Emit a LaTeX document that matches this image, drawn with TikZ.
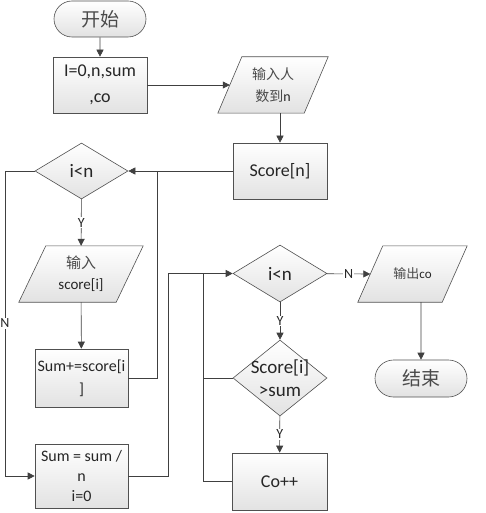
\documentclass[tikz,border=0pt]{standalone}
\usepackage{fontspec}
\setmainfont{Carlito}
\newfontfamily\cjk{Noto Sans CJK SC}
\usetikzlibrary{shapes.geometric,shapes.misc,arrows.meta,calc,backgrounds}
\definecolor{linec}{HTML}{404040}
\definecolor{borderc}{HTML}{505050}
\definecolor{textc}{HTML}{262626}
\definecolor{cjkc}{HTML}{4A4A4A}
\definecolor{fillc}{HTML}{E2E2E2}
\newcommand\myfs[2]{\fontsize{#1}{#2}\selectfont}
\newcommand\zh[1]{{\cjk\color{cjkc}#1}}
\newcommand\drawpara[2]{%
  \begin{pgfonlayer}{background}
    \path[base] (#1.south west) -- ($(#1.north west)+(#2,0)$) -- (#1.north east) -- ($(#1.south east)-(#2,0)$) -- cycle;
  \end{pgfonlayer}}
\begin{document}
\begin{tikzpicture}[x=1pt,y=-1pt,
  base/.style={draw=borderc, line width=0.6pt, top color=white, bottom color=fillc, text=textc, align=center, inner sep=1pt},
  proc/.style={base, rectangle, minimum width=94, minimum height=56, font=\myfs{18}{26}},
  term/.style={base, rounded rectangle, minimum width=94, minimum height=36, font=\myfs{19}{22}},
  dec/.style={base, diamond, minimum width=94, minimum height=57, font=\myfs{19}{23}},
  io/.style={rectangle, minimum height=56, text=textc, align=center, inner sep=1pt, font=\myfs{14}{22}},
  conn/.style={draw=linec, line width=0.6pt},
  arr/.style={conn, -{Triangle[length=7pt,width=7pt]}},
  lab/.style={fill=white, inner sep=1pt, text=textc, font=\myfs{14}{14}}
]
\useasboundingbox (0,0) rectangle (485,513);

\node[term] (start) at (100,19) {\zh{开始}};
\node[proc] (init) at (100,85) {I=0,n,sum\\,co};
\node[io, minimum width=110] (in1) at (273,85) {\zh{输入人}\\\zh{数到}n};
\drawpara{in1}{24}
\node[proc] (score) at (280,171) {Score[n]};
\node[dec, minimum width=93, minimum height=56] (d1) at (81.5,171) {i<n};
\node[io, minimum width=124, font=\myfs{15}{21}] (in2) at (81,274) {\zh{输入}\\score[i]};
\drawpara{in2}{27}
\node[proc, minimum width=93, minimum height=58, font=\myfs{16}{23}] (sum1) at (81.5,378) {Sum+=score[i\\]};
\node[proc, minimum width=93, minimum height=64, font=\myfs{16}{20}] (avg) at (81.5,476) {Sum = sum /\\n\\i=0};
\node[dec] (d2) at (280,273.5) {i<n};
\node[dec, minimum height=76] (d3) at (280,378) {};
\node[text=textc, align=center, font=\myfs{19}{23}, inner sep=0pt] (d3t) at (d3.center) {Score[i]\\>sum};
\node[proc, minimum width=95, minimum height=57] (co) at (279.5,481.5) {Co++};
\node[io, minimum width=109, font=\myfs{13}{16}] (out) at (412.5,274) {\zh{输出}co};
\drawpara{out}{25}
\node[term, minimum height=37] (end) at (421,378.5) {\zh{结束}};

\coordinate (in1w) at ($(in1.west)+(12,0)$);
\coordinate (outw) at ($(out.west)+(12.5,0)$);
\coordinate (j1) at (157,171);
\coordinate (nl) at (5,171);
\coordinate (j2) at (168,273.5);
\coordinate (j3) at (203,273.5);

\draw[arr] (start) -- (init);
\draw[arr] (init) -- (in1w);
\draw[arr] (in1.south -| score.north) -- (score.north);
\draw[arr] (score) -- (d1);
\draw[conn] (sum1.east) -| (j1);
\draw[arr] (d1) -- node[lab]{Y} (in2);
\draw[arr] (in2) -- (sum1);
\draw[arr] (d1.west) -- (nl) |- node[lab, pos=0.25]{N} (avg.west);
\draw[arr] (avg.east) -| (j2) -- (d2.west);
\draw[arr] (d2) -- node[lab]{Y} (d3);
\draw[arr] (d3) -- node[lab]{Y} (co);
\draw[conn] (co.west) -| (j3);
\draw[conn] (d3.west) -- (d3.west -| j3);
\draw[arr] (d2) -- node[lab]{N} (outw);
\draw[arr] (out.south -| end.north) -- (end);
\end{tikzpicture}
\end{document}
